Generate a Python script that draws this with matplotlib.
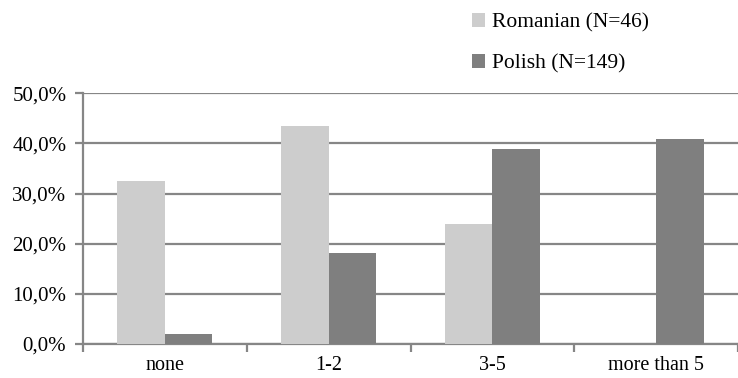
import matplotlib
matplotlib.use("Agg")
import matplotlib.pyplot as plt
import numpy as np
from matplotlib.ticker import FuncFormatter, MultipleLocator

categories = ["none", "1-2", "3-5", "more than 5"]
romanian = [32.6, 43.5, 23.9, 0.0]
polish = [2.0, 18.1, 38.9, 40.9]
series_labels = ["Romanian (N=46)", "Polish (N=149)"]

plt.rcParams["font.family"] = ["Liberation Serif", "DejaVu Serif"]

fig = plt.figure(figsize=(7.38, 3.78), dpi=100)
ax = fig.add_axes([0.1125, 0.09, 0.8875, 0.663])

x = np.arange(len(categories))
w = 0.29
grey = "#868686"
b1 = ax.bar(x - w / 2, romanian, w, color="#cdcdcd", zorder=3)
b2 = ax.bar(x + w / 2, polish, w, color="#7f7f7f", zorder=3)

ax.set_xlim(-0.5, len(categories) - 0.5)
ax.set_ylim(0, 50)
ax.yaxis.set_major_locator(MultipleLocator(10))
ax.yaxis.set_major_formatter(FuncFormatter(lambda v, p: f"{v:.1f}%".replace(".", ",")))
ax.grid(axis="y", color=grey, linewidth=1.6, zorder=0)

ax.set_xticks(np.arange(len(categories) + 1) - 0.5)
ax.set_xticklabels([])
ax.set_xticks(x, minor=True)
ax.set_xticklabels(categories, minor=True, fontsize=14.5)
ax.tick_params(axis="x", which="minor", length=0, pad=9)
ax.tick_params(axis="x", which="major", length=6, width=1.6, color=grey)
ax.tick_params(axis="y", length=6, width=1.6, color=grey, labelsize=15, pad=6)

for side in ("top", "right"):
    ax.spines[side].set_visible(False)
for side in ("left", "bottom"):
    ax.spines[side].set_color(grey)
    ax.spines[side].set_linewidth(1.6)

fig.legend([b1, b2], series_labels, loc="upper left", bbox_to_anchor=(0.622, 1.0),
           frameon=False, fontsize=15.5, handlelength=0.6, handleheight=0.6,
           handletextpad=0.35, labelspacing=1.0, borderaxespad=0.2)

fig.savefig("out.png", dpi=100)
